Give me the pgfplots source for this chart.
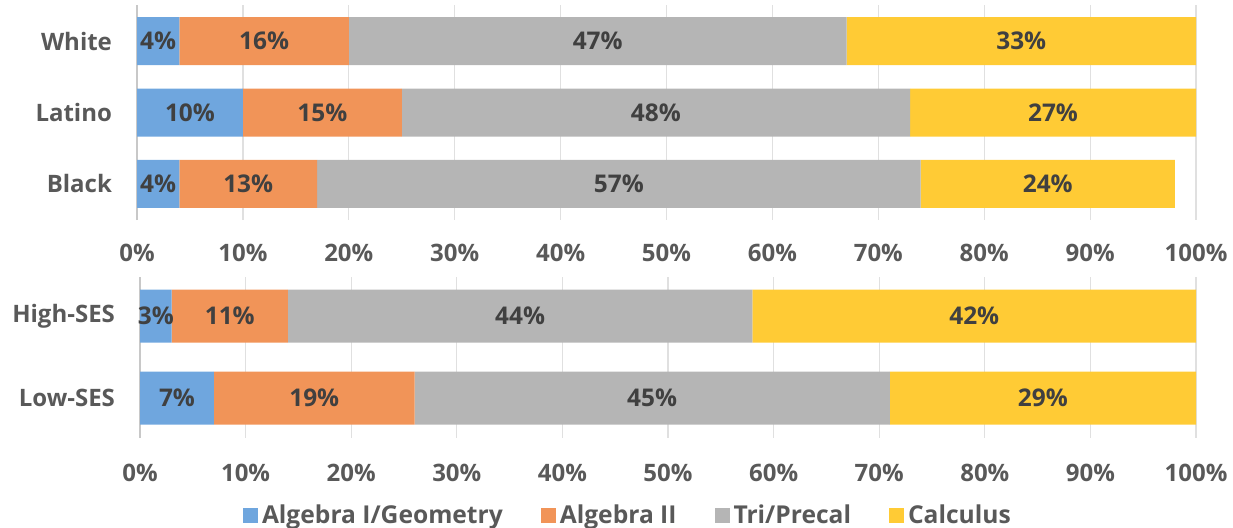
\documentclass[border=0pt]{standalone}
\usepackage{fontspec}
\setmainfont{Open Sans}
\usepackage{pgfplots}
\pgfplotsset{compat=1.18}
\definecolor{cblue}{HTML}{6FA6DE}
\definecolor{corange}{HTML}{F19458}
\definecolor{cgray}{HTML}{B5B5B5}
\definecolor{cyellow}{HTML}{FFCB35}
\definecolor{ctext}{HTML}{595959}
\definecolor{clabel}{HTML}{404040}
\definecolor{cgrid}{HTML}{E0E0E0}
\definecolor{caxis}{HTML}{C8C8C8}
\pgfplotsset{
  base/.style={
    scale only axis,
    xmin=0, xmax=100,
    xtick={0,10,...,100},
    /pgf/number format/assume math mode=true,
    xticklabel={\pgfmathprintnumber{\tick}\%},
    major tick length=0pt,
    xmajorgrids,
    grid style={cgrid, line width=0.6pt},
    axis lines*=left,
    x axis line style={draw=none},
    y axis line style={caxis, line width=0.8pt},
    tick label style={font=\fontsize{12}{14}\selectfont\bfseries, text=ctext},
    yticklabel style={xshift=-9pt},
    xbar stacked,
    every axis plot/.append style={draw=none},
  },
  lab/.style={
    scale only axis, hide axis,
    xmin=0, xmax=100,
    nodes near coords={\pgfplotspointmeta},
    point meta=explicit symbolic,
    every node near coord/.style={anchor=center, font=\fontsize{12.2}{14}\selectfont\bfseries, text=clabel, inner sep=0pt},
  },
}
\begin{document}
\begin{tikzpicture}
% ---------------- top panel ----------------
\begin{axis}[base, at={(68.5pt,-2.5pt)}, anchor=north west,
  width=529.5pt, height=107.5pt,
  ymin=-0.507, ymax=2.507,
  ytick={0,1,2}, yticklabels={Black,Latino,White},
  xticklabel style={yshift=-8.75pt},
  bar width=24pt]
\addplot[fill=cblue]   coordinates {(4,0) (10,1) (4,2)};
\addplot[fill=corange] coordinates {(13,0) (15,1) (16,2)};
\addplot[fill=cgray]   coordinates {(57,0) (48,1) (47,2)};
\addplot[fill=cyellow] coordinates {(24,0) (27,1) (33,2)};
\end{axis}
\begin{axis}[lab, at={(68.5pt,-2.5pt)}, anchor=north west,
  width=529.5pt, height=107.5pt, ymin=-0.507, ymax=2.507]
\addplot[draw=none, mark=none] coordinates {
  (2,2) [4\%] (12,2) [16\%] (43.5,2) [47\%] (83.5,2) [33\%]
  (5,1) [10\%] (17.5,1) [15\%] (49,1) [48\%] (86.5,1) [27\%]
  (2,0) [4\%] (10.5,0) [13\%] (45.5,0) [57\%] (86,0) [24\%]
};
\end{axis}
% ---------------- bottom panel ----------------
\begin{axis}[base, at={(70pt,-138.5pt)}, anchor=north west,
  width=528pt, height=80.5pt,
  ymin=-0.488, ymax=1.476,
  ytick={0,1}, yticklabels={Low-SES,High-SES},
  xticklabel style={yshift=-9.75pt},
  bar width=26.5pt,
  legend style={at={(axis description cs:0.463,-0.48)}, anchor=center,
    draw=none, fill=none, legend columns=4,
    font=\fontsize{12.3}{14}\selectfont\bfseries, text=ctext,
    /tikz/every even column/.append style={column sep=17pt},
    inner sep=0pt},
  legend cell align=left,
  legend image code/.code={\fill[#1] (0pt,-3.75pt) rectangle (7.5pt,3.75pt);}]
\addplot[fill=cblue]   coordinates {(7,0) (3,1)};
\addplot[fill=corange] coordinates {(19,0) (11,1)};
\addplot[fill=cgray]   coordinates {(45,0) (44,1)};
\addplot[fill=cyellow] coordinates {(29,0) (42,1)};
\legend{Algebra I/Geometry, Algebra II, Tri/Precal, Calculus}
\end{axis}
\begin{axis}[lab, at={(70pt,-138.5pt)}, anchor=north west,
  width=528pt, height=80.5pt, ymin=-0.488, ymax=1.476]
\addplot[draw=none, mark=none] coordinates {
  (1.5,1) [3\%] (8.5,1) [11\%] (36,1) [44\%] (79,1) [42\%]
  (3.5,0) [7\%] (16.5,0) [19\%] (48.5,0) [45\%] (85.5,0) [29\%]
};
\end{axis}
\pgfresetboundingbox
\path (0,0) rectangle (616.5pt,-263.5pt);
\end{tikzpicture}
\end{document}
